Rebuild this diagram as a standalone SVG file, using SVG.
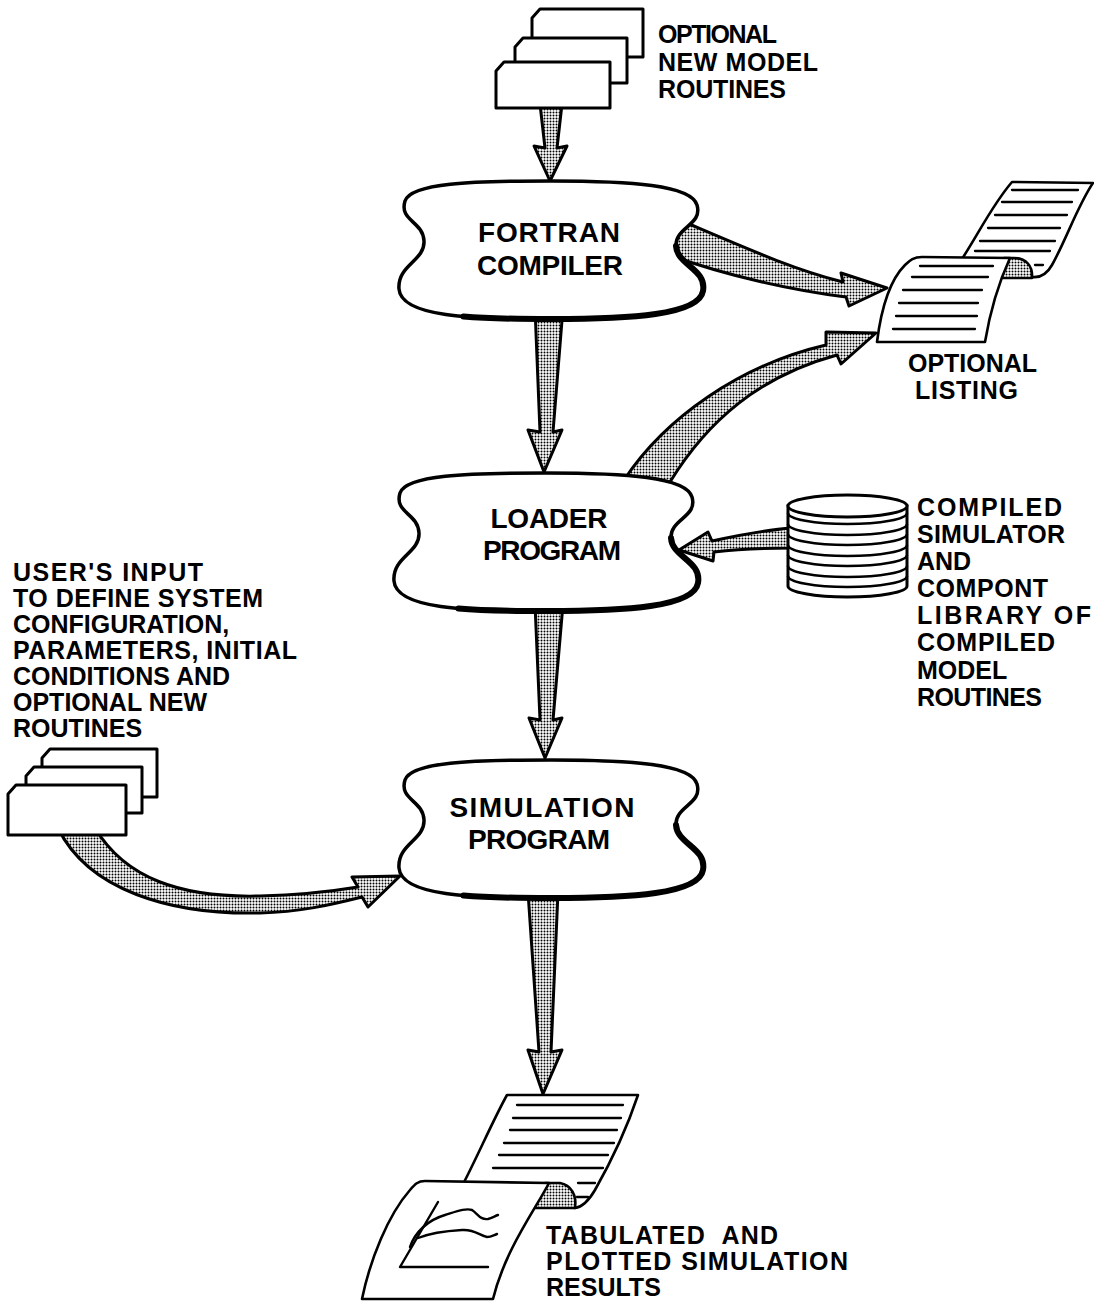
<svg xmlns="http://www.w3.org/2000/svg" width="1094" height="1302" viewBox="0 0 1094 1302">
  <defs>
    <!-- halftone stipple used for the fat arrows and paper curls -->
    <pattern id="dots" width="3" height="3" patternUnits="userSpaceOnUse">
      <rect width="3" height="3" fill="#fff"/>
      <circle cx="1.5" cy="1.5" r="1" fill="#000"/>
    </pattern>
    <!-- puffy "program" outline, centred on 0,0 -->
    <path id="blob" d="M0,-68 C80,-68 140,-64 146,-44 C152,-24 124,-22 125,-3 C126,16 156,20 152,42 C148,66 80,70 0,70 C-80,70 -150,68 -152,40 C-154,16 -126,12 -127,-8 C-128,-28 -152,-28 -146,-48 C-140,-66 -80,-68 0,-68 Z"/>
    <!-- heavier shadow line along the lower right of the outline -->
    <path id="blob-base" d="M125,-3 C126,16 156,20 152,42 C148,66 80,70 0,70 C-32,70 -62.4,69.7 -87.5,67.5"/>
  </defs>
  <style>
    .arrow{fill:url(#dots);stroke:#000;stroke-width:3;stroke-linejoin:round}
    .card{fill:#fff;stroke:#000;stroke-width:3;stroke-linejoin:round}
    .sheet{fill:#fff;stroke:#000;stroke-width:2.6;stroke-linejoin:round}
    .curl{fill:url(#dots);stroke:#000;stroke-width:2.6;stroke-linejoin:round}
    .rule{fill:none;stroke:#000;stroke-width:2.3;stroke-linecap:round}
    .plot{fill:none;stroke:#000;stroke-width:2.4;stroke-linecap:round;stroke-linejoin:round}
    .blob{fill:#fff;stroke:#000;stroke-width:3.5}
    .blob-base{fill:none;stroke:#000;stroke-width:6;stroke-linecap:round}
    .drum{fill:#fff;stroke:#000;stroke-width:3}
    .ring{fill:none;stroke:#000;stroke-width:2.6}
    .lbl{font-family:"Liberation Sans",Arial,Helvetica,sans-serif;font-weight:bold;fill:#000}
    .big{font-size:28px;text-anchor:middle}
    .mid{font-size:25px}
    .sm{font-size:25px}
  </style>

  <rect width="1094" height="1302" fill="#fff"/>

  <!-- connectors -->
  <g id="connectors">
    <!-- new model routines -> compiler -->
    <path class="arrow" d="M540,104 L562,104 L557,148 L567,146 L550,181 L534,146 L545,148 Z"/>
    <!-- compiler -> loader -->
    <path class="arrow" d="M535,308 L563,308 L553,432 L562,430 L544,472 L528,430 L540,432 Z"/>
    <!-- loader -> simulation -->
    <path class="arrow" d="M535,604 L563,604 L553,720 L562,718 L545,758 L529,718 L540,720 Z"/>
    <!-- simulation -> results -->
    <path class="arrow" d="M528,892 L558,892 L551,1052 L562,1050 L543,1094 L528,1050 L539,1052 Z"/>
    <!-- compiler -> listing -->
    <path class="arrow" d="M682,221 C750,250 795,270 843,282 L841,273 L887,288 L849,306 L846,297 C790,290 725,275 672,256 Z"/>
    <!-- loader -> listing -->
    <path class="arrow" d="M624,480 C665,418 740,365 826,345 L826,332 L876,333 L841,364 L837,355 C760,376 708,420 670,482 Z"/>
    <!-- library -> loader -->
    <path class="arrow" d="M792,528 C765,530 735,536 712,541 L708,532 L679,550 L713,561 L714,552 C740,549 765,548 792,548 Z"/>
    <!-- user input -> simulation -->
    <path class="arrow" d="M95,828 C125,878 180,898 260,896 C300,895 334,891 358,887 L352,877 L400,876 L368,907 L362,897 C330,905 300,912 260,913 C170,915 88,890 58,828 Z"/>
  </g>

  <!-- optional new model routines (card deck) -->
  <g id="model-cards">
    <path class="card" d="M532,57 L532,18 L540,9 L643,9 L643,57 Z"/>
    <path class="card" d="M515,83 L515,47 L523,38 L627,38 L627,83 Z"/>
    <path class="card" d="M496,108 L496,71 L504,62 L610,62 L610,108 Z"/>
    <text class="lbl sm" x="658" y="43" textLength="119">OPTIONAL</text>
    <text class="lbl sm" x="658" y="71" textLength="160">NEW MODEL</text>
    <text class="lbl sm" x="658" y="98" textLength="128">ROUTINES</text>
  </g>

  <!-- fortran compiler -->
  <g id="compiler">
    <use href="#blob" class="blob" transform="translate(551,249)"/>
    <use href="#blob-base" class="blob-base" transform="translate(551,249)"/>
    <text class="lbl big" x="549" y="242" textLength="142">FORTRAN</text>
    <text class="lbl big" x="550" y="275" textLength="146">COMPILER</text>
  </g>

  <!-- optional listing (fan-fold paper) -->
  <g id="listing">
    <path class="sheet" d="M1012,182 L1093,183 C1078,205 1066,240 1052,265 C1047,274 1040,278 1032,277 L960,262 C978,235 992,205 1012,182 Z"/>
    <g class="rule">
      <line x1="1012" y1="190" x2="1078" y2="190"/>
      <line x1="1002" y1="202" x2="1072" y2="202"/>
      <line x1="995" y1="215" x2="1067" y2="215"/>
      <line x1="988" y1="228" x2="1060" y2="228"/>
      <line x1="980" y1="241" x2="1055" y2="241"/>
      <line x1="975" y1="251" x2="1050" y2="251"/>
      <line x1="1035" y1="265" x2="1043" y2="265"/>
    </g>
    <path class="curl" d="M1004,258 L1014,258 C1026,258 1033,266 1032,278 L999,278 Z"/>
    <path class="sheet" d="M877,342 C881,310 890,280 905,265 C910,260 914,257 922,257 L1010,258 C999,282 990,312 985,342 Z"/>
    <g class="rule">
      <line x1="920" y1="266" x2="993" y2="266"/>
      <line x1="912" y1="277" x2="988" y2="277"/>
      <line x1="903" y1="290" x2="982" y2="290"/>
      <line x1="899" y1="303" x2="978" y2="303"/>
      <line x1="896" y1="316" x2="977" y2="316"/>
      <line x1="893" y1="329" x2="975" y2="329"/>
    </g>
    <text class="lbl mid" x="908" y="372" textLength="129">OPTIONAL</text>
    <text class="lbl mid" x="915" y="399" textLength="103">LISTING</text>
  </g>

  <!-- loader program -->
  <g id="loader">
    <use href="#blob" class="blob" transform="translate(546,541)"/>
    <use href="#blob-base" class="blob-base" transform="translate(546,541)"/>
    <text class="lbl big" x="549" y="528" textLength="117">LOADER</text>
    <text class="lbl big" x="552" y="560" textLength="138">PROGRAM</text>
  </g>

  <!-- compiled simulator and component library (disk drum) -->
  <g id="library">
    <path class="drum" d="M788,506 L788,586 A59.5,11 0 0 0 907,586 L907,506 Z"/>
    <ellipse class="drum" cx="847.5" cy="506" rx="59.5" ry="11"/>
    <g class="ring">
      <path d="M788,513 A59.5,11 0 0 0 907,513"/>
      <path d="M788,524 A59.5,11 0 0 0 907,524"/>
      <path d="M788,534 A59.5,11 0 0 0 907,534"/>
      <path d="M788,545 A59.5,11 0 0 0 907,545"/>
      <path d="M788,555 A59.5,11 0 0 0 907,555"/>
      <path d="M788,566 A59.5,11 0 0 0 907,566"/>
      <path d="M788,576 A59.5,11 0 0 0 907,576"/>
    </g>
    <text class="lbl mid" x="917" y="516" textLength="145">COMPILED</text>
    <text class="lbl mid" x="917" y="543" textLength="148">SIMULATOR</text>
    <text class="lbl mid" x="917" y="570">AND</text>
    <text class="lbl mid" x="917" y="597" textLength="131">COMPONT</text>
    <text class="lbl mid" x="917" y="624" textLength="174">LIBRARY OF</text>
    <text class="lbl mid" x="917" y="651" textLength="138">COMPILED</text>
    <text class="lbl mid" x="917" y="679">MODEL</text>
    <text class="lbl mid" x="917" y="706" textLength="125">ROUTINES</text>
  </g>

  <!-- user's input (card deck) -->
  <g id="user-input">
    <text class="lbl sm" x="13" y="581" textLength="190">USER'S INPUT</text>
    <text class="lbl sm" x="13" y="607" textLength="250">TO DEFINE SYSTEM</text>
    <text class="lbl sm" x="13" y="633">CONFIGURATION,</text>
    <text class="lbl sm" x="13" y="659" textLength="284">PARAMETERS, INITIAL</text>
    <text class="lbl sm" x="13" y="685">CONDITIONS AND</text>
    <text class="lbl sm" x="13" y="711">OPTIONAL NEW</text>
    <text class="lbl sm" x="13" y="737">ROUTINES</text>
    <path class="card" d="M42,797 L42,758 L50,749 L157,749 L157,797 Z"/>
    <path class="card" d="M26,813 L26,776 L34,767 L142,767 L142,813 Z"/>
    <path class="card" d="M8,835 L8,794 L16,785 L126,785 L126,835 Z"/>
  </g>

  <!-- simulation program -->
  <g id="simulation">
    <use href="#blob" class="blob" transform="translate(551,828)"/>
    <use href="#blob-base" class="blob-base" transform="translate(551,828)"/>
    <text class="lbl big" x="542" y="817" textLength="185">SIMULATION</text>
    <text class="lbl big" x="539" y="849" textLength="142">PROGRAM</text>
  </g>

  <!-- tabulated and plotted results (fan-fold paper with graph) -->
  <g id="results">
    <path class="sheet" d="M507,1095 L638,1095 C628,1125 612,1160 595,1190 C588,1202 582,1207 575,1208 L460,1190 C476,1160 493,1120 507,1095 Z"/>
    <g class="rule">
      <line x1="517" y1="1105" x2="623" y2="1105"/>
      <line x1="513" y1="1118" x2="621" y2="1118"/>
      <line x1="510" y1="1130" x2="617" y2="1130"/>
      <line x1="504" y1="1143" x2="614" y2="1143"/>
      <line x1="499" y1="1155" x2="608" y2="1155"/>
      <line x1="493" y1="1168" x2="603" y2="1168"/>
      <line x1="578" y1="1183" x2="595" y2="1183"/>
      <line x1="577" y1="1197" x2="588" y2="1197"/>
    </g>
    <path class="curl" d="M545,1183 L560,1183 C571,1185 577,1195 575,1208 L532,1208 Z"/>
    <path class="sheet" d="M362,1299 C370,1260 388,1215 410,1190 C415,1184 418,1181 425,1181 L549,1183 C535,1210 505,1250 493,1299 Z"/>
    <path class="plot" d="M438,1202 L400,1267 L488,1267"/>
    <path class="plot" d="M410,1247 C415,1232 428,1220 445,1215 C458,1211 466,1208 472,1210 C478,1214 480,1220 488,1219 C492,1218 495,1216 498,1215"/>
    <path class="plot" d="M418,1238 C428,1234 445,1231 462,1230 C475,1229 480,1236 487,1237 C491,1237 494,1235 497,1234"/>
    <text class="lbl mid" x="546" y="1244" style="white-space:pre" xml:space="preserve" textLength="232">TABULATED  AND</text>
    <text class="lbl mid" x="546" y="1270" textLength="302">PLOTTED SIMULATION</text>
    <text class="lbl mid" x="546" y="1296">RESULTS</text>
  </g>
</svg>
